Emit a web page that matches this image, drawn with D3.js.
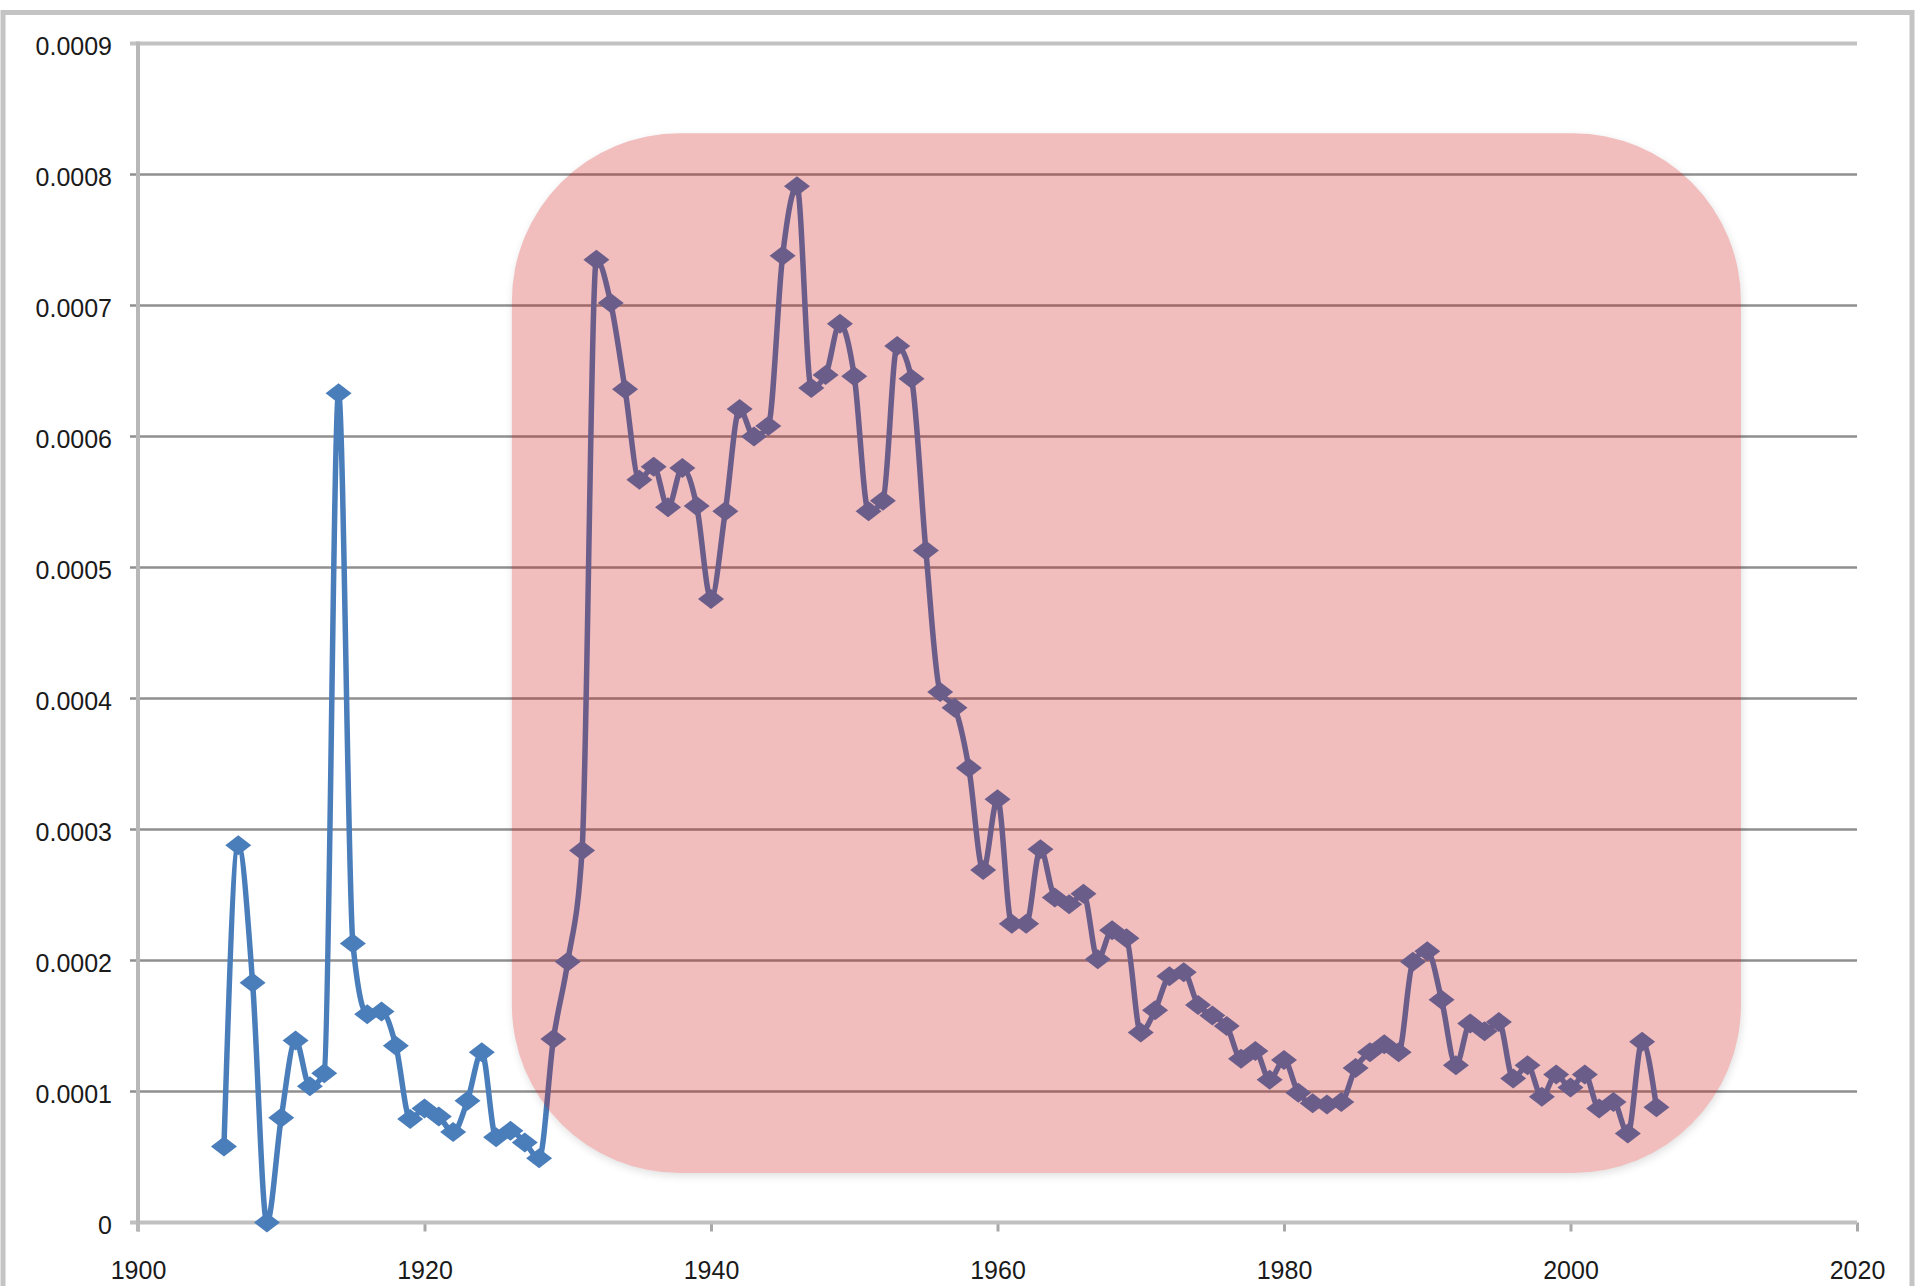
<!DOCTYPE html>
<html>
<head>
<meta charset="utf-8">
<script src="https://cdn.jsdelivr.net/npm/d3@7"></script>
<style>
	body { margin: 0; background: #fff; }
	svg { display: block; }
</style>
</head>
<body>
<script>
/* values */
var years = [
	1906, 1907, 1908, 1909, 1910, 1911, 1912, 1913, 1914, 1915,
	1916, 1917, 1918, 1919, 1920, 1921, 1922, 1923, 1924, 1925,
	1926, 1927, 1928, 1929, 1930, 1931, 1932, 1933, 1934, 1935,
	1936, 1937, 1938, 1939, 1940, 1941, 1942, 1943, 1944, 1945,
	1946, 1947, 1948, 1949, 1950, 1951, 1952, 1953, 1954, 1955,
	1956, 1957, 1958, 1959, 1960, 1961, 1962, 1963, 1964, 1965,
	1966, 1967, 1968, 1969, 1970, 1971, 1972, 1973, 1974, 1975,
	1976, 1977, 1978, 1979, 1980, 1981, 1982, 1983, 1984, 1985,
	1986, 1987, 1988, 1989, 1990, 1991, 1992, 1993, 1994, 1995,
	1996, 1997, 1998, 1999, 2000, 2001, 2002, 2003, 2004, 2005,
	2006
];
var values = [
	0.000058, 0.000288, 0.000183, 0.000000, 0.000080, 0.000139, 0.000104, 0.000114, 0.000633, 0.000213,
	0.000159, 0.000161, 0.000135, 0.000079, 0.000087, 0.000081, 0.000069, 0.000093, 0.000130, 0.000065,
	0.000070, 0.000061, 0.000049, 0.000140, 0.000199, 0.000284, 0.000735, 0.000702, 0.000636, 0.000567,
	0.000577, 0.000546, 0.000576, 0.000547, 0.000476, 0.000543, 0.000621, 0.000600, 0.000608, 0.000738,
	0.000791, 0.000637, 0.000647, 0.000686, 0.000646, 0.000543, 0.000551, 0.000669, 0.000644, 0.000513,
	0.000405, 0.000393, 0.000347, 0.000269, 0.000323, 0.000228, 0.000228, 0.000285, 0.000248, 0.000243,
	0.000251, 0.000201, 0.000223, 0.000217, 0.000145, 0.000162, 0.000188, 0.000191, 0.000166, 0.000158,
	0.000150, 0.000125, 0.000131, 0.000109, 0.000124, 0.000099, 0.000091, 0.000090, 0.000092, 0.000118,
	0.000130, 0.000136, 0.000130, 0.000199, 0.000207, 0.000170, 0.000120, 0.000152, 0.000146, 0.000153,
	0.000110, 0.000120, 0.000096, 0.000113, 0.000103, 0.000113, 0.000087, 0.000092, 0.000068, 0.000138,
	0.000088
];
var xTicks = [1900, 1920, 1940, 1960, 1980, 2000, 2020];
var yTicks = [0, 0.0001, 0.0002, 0.0003, 0.0004, 0.0005, 0.0006, 0.0007, 0.0008, 0.0009];
var yTickLabels = ["0", "0.0001", "0.0002", "0.0003", "0.0004", "0.0005", "0.0006", "0.0007", "0.0008", "0.0009"];
// highlighted span (pink box), in data units
var boxYears = [1926.1, 2011.9];
var boxValues = [0.0000378, 0.0008315];

var W = 1915, H = 1286;
var blue = "#4a7ebb";

var svg = d3.select("body").append("svg")
	.attr("width", W)
	.attr("height", H)
	.attr("style", "font-family: 'Liberation Sans', Arial, sans-serif;");

svg.append("rect").attr("width", W).attr("height", H).attr("fill", "#fff");

// outer frame
svg.append("rect")
	.attr("x", 3).attr("y", 12.5)
	.attr("width", 1909).attr("height", 1320)
	.attr("fill", "none")
	.attr("stroke", "#c4c4c4")
	.attr("stroke-width", 5);

var x = d3.scaleLinear().domain([1900, 2020]).range([138, 1857]);
var y = d3.scaleLinear().domain([0, 0.0009]).range([1222.5, 43.5]);

// gridlines
svg.append("g").selectAll("line")
	.data(yTicks.slice(1))
	.enter().append("line")
	.attr("x1", 130).attr("x2", x(2020))
	.attr("y1", function(d){ return y(d); })
	.attr("y2", function(d){ return y(d); })
	.attr("stroke", function(d){ return d == 0.0009 ? "#c2c2c2" : "#8f8f8f"; })
	.attr("stroke-width", function(d){ return d == 0.0009 ? 4 : 2.5; });

// axes
var xAxis = svg.append("g")
	.attr("transform", "translate(0," + y(0) + ")")
	.call(d3.axisBottom(x).tickValues(xTicks).tickFormat(d3.format("d")).tickSize(9).tickPadding(30));
xAxis.select(".domain").remove();
xAxis.selectAll(".tick line").attr("stroke", "#a8a8a8").attr("stroke-width", 3);
xAxis.selectAll("text").attr("font-size", 25).attr("fill", "#1a1a1a")
	.attr("font-family", "'Liberation Sans', Arial, sans-serif");

svg.append("line")
	.attr("x1", 130).attr("x2", x(2020))
	.attr("y1", y(0)).attr("y2", y(0))
	.attr("stroke", "#c0c0c0").attr("stroke-width", 4);
svg.append("line")
	.attr("x1", x(1900)).attr("x2", x(1900))
	.attr("y1", y(0.0009) - 2).attr("y2", y(0) + 9)
	.attr("stroke", "#b8b8b8").attr("stroke-width", 4);

var yAxis = svg.append("g")
	.attr("transform", "translate(" + x(1900) + ",0)")
	.call(d3.axisLeft(y).tickValues(yTicks)
		.tickFormat(function(d, i){ return yTickLabels[i]; })
		.tickSize(0).tickPadding(26));
yAxis.select(".domain").remove();
yAxis.selectAll("text").attr("font-size", 25).attr("fill", "#1a1a1a")
	.attr("dy", "0.42em")
	.attr("font-family", "'Liberation Sans', Arial, sans-serif");

// series
var pts = years.map(function(d, i){ return {year: d, v: values[i]}; });
var line = d3.line()
	.x(function(d){ return x(d.year); })
	.y(function(d){ return y(d.v); })
	.curve(d3.curveMonotoneX);

svg.append("path")
	.datum(pts)
	.attr("d", line)
	.attr("fill", "none")
	.attr("stroke", blue)
	.attr("stroke-width", 5.5)
	.attr("stroke-linejoin", "round");

svg.append("g").selectAll("path")
	.data(pts)
	.enter().append("path")
	.attr("d", "M-13,0 L0,-10 L13,0 L0,10 Z")
	.attr("transform", function(d){ return "translate(" + x(d.year) + "," + y(d.v) + ")"; })
	.attr("fill", blue);

// highlight box with soft shadow
var bx = x(boxYears[0]), bw = x(boxYears[1]) - bx;
var by = y(boxValues[1]), bh = y(boxValues[0]) - by;
var defs = svg.append("defs");
defs.append("filter").attr("id", "blur")
	.attr("x", "-10%").attr("y", "-10%").attr("width", "120%").attr("height", "120%")
	.append("feGaussianBlur").attr("stdDeviation", 4);
var mask = defs.append("mask").attr("id", "outside");
mask.append("rect").attr("width", W).attr("height", H).attr("fill", "#fff");
mask.append("rect").attr("x", bx).attr("y", by).attr("width", bw).attr("height", bh)
	.attr("rx", 168).attr("fill", "#000");

svg.append("rect")
	.attr("x", bx + 1).attr("y", by + 3).attr("width", bw).attr("height", bh)
	.attr("rx", 168)
	.attr("fill", "#000").attr("opacity", 0.12)
	.attr("filter", "url(#blur)")
	.attr("mask", "url(#outside)");

svg.append("rect")
	.attr("x", bx).attr("y", by).attr("width", bw).attr("height", bh)
	.attr("rx", 168)
	.attr("fill", "rgb(200,0,0)")
	.attr("fill-opacity", 0.26);
</script>
</body>
</html>
